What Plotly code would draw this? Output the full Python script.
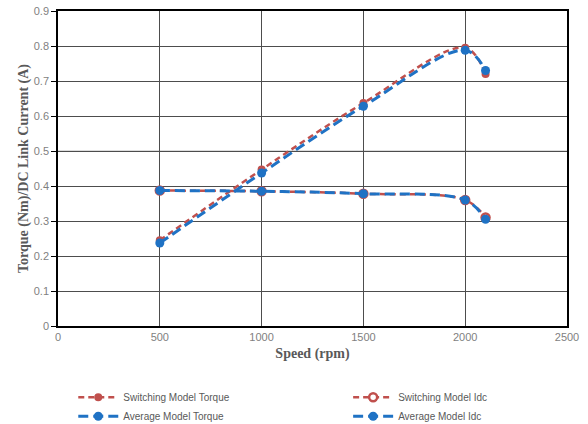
import plotly.graph_objects as go

speed = [500, 1000, 1500, 2000, 2100]
sw_torque = [0.245, 0.447, 0.637, 0.795, 0.72]
avg_torque = [0.237, 0.437, 0.628, 0.788, 0.73]
sw_idc = [0.387, 0.385, 0.378, 0.360, 0.310]
avg_idc = [0.387, 0.385, 0.378, 0.360, 0.305]

x_ticks = [0, 500, 1000, 1500, 2000, 2500]
y_ticks = [0, 0.1, 0.2, 0.3, 0.4, 0.5, 0.6, 0.7, 0.8, 0.9]
y_labels = ["0", "0.1", "0.2", "0.3", "0.4", "0.5", "0.6", "0.7", "0.8", "0.9"]

RED = "#C0504D"
BLUE = "#1F72C4"

fig = go.Figure()
fig.add_trace(go.Scatter(x=speed, y=sw_torque, name="Switching Model Torque", legend="legend",
                         mode="lines+markers", line=dict(color=RED, width=2.5, dash="6px,4px", shape="spline"),
                         marker=dict(color=RED, size=8)))
fig.add_trace(go.Scatter(x=speed, y=sw_idc, name="Switching Model Idc", legend="legend2",
                         mode="lines+markers", line=dict(color=RED, width=2.5, dash="6px,4px", shape="spline"),
                         marker=dict(color="white", size=8, line=dict(color=RED, width=2.5))))
fig.add_trace(go.Scatter(x=speed, y=avg_torque, name="Average Model Torque", legend="legend",
                         mode="lines+markers", line=dict(color=BLUE, width=3, dash="10px,5px", shape="spline"),
                         marker=dict(color=BLUE, size=9)))
fig.add_trace(go.Scatter(x=speed, y=avg_idc, name="Average Model Idc", legend="legend2",
                         mode="lines+markers", line=dict(color=BLUE, width=3, dash="10px,5px", shape="spline"),
                         marker=dict(color=BLUE, size=9)))

# lighter gridline at 0.5 as in the reference
fig.add_shape(type="line", xref="paper", x0=0, x1=1, yref="y", y0=0.5, y1=0.5,
              line=dict(color="#b8b8b8", width=1), layer="below")

legend_style = dict(orientation="v", yanchor="top", xanchor="left", traceorder="normal",
                    font=dict(size=10, color="#595959"), itemwidth=40, tracegroupgap=0,
                    bgcolor="rgba(0,0,0,0)")

fig.update_layout(
    width=588, height=424,
    margin=dict(l=58, r=21, t=11, b=98, autoexpand=False),
    paper_bgcolor="white", plot_bgcolor="white",
    font=dict(family="Liberation Sans, Arial", size=11, color="#595959"),
    xaxis=dict(range=[0, 2500], tickvals=x_ticks, showgrid=True, gridcolor="#4d4d4d", gridwidth=1,
               zeroline=False, showline=True, linecolor="#000", linewidth=1.5, mirror=True,
               automargin=False,
               tickfont=dict(size=11, color="#7f7f7f"),
               title=dict(text="<b>Speed (rpm)</b>", font=dict(family="Liberation Serif, Times New Roman", size=14, color="#595959"), standoff=6)),
    yaxis=dict(range=[0, 0.9], tickvals=y_ticks, ticktext=y_labels, showgrid=True, gridcolor="#4d4d4d", gridwidth=1,
               zeroline=False, showline=True, linecolor="#000", linewidth=1.5, mirror=True,
               ticks="outside", ticklen=5, tickcolor="#000", automargin=False,
               tickfont=dict(size=11, color="#7f7f7f"),
               title=dict(text="<b>Torque (Nm)/DC Link Current (A)</b>", font=dict(family="Liberation Serif, Times New Roman", size=14, color="#595959"), standoff=2)),
    legend=dict(x=0.03, y=-0.18, **legend_style),
    legend2=dict(x=0.57, y=-0.18, **legend_style),
)
fig.write_html("out.html", post_script="document.body.style.margin='0';",
               config={"displayModeBar": False})
